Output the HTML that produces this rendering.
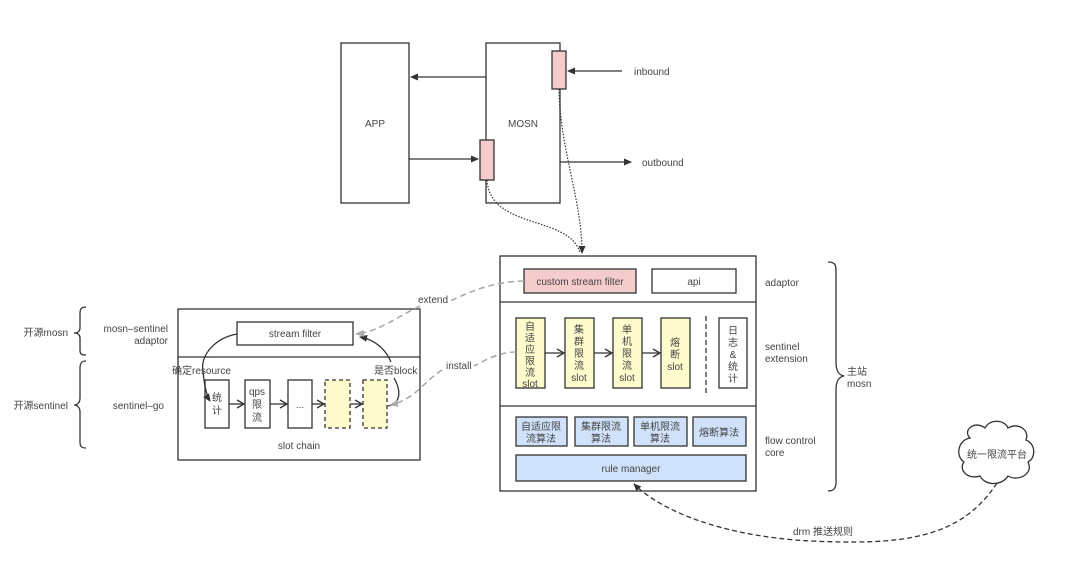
<!DOCTYPE html>
<html><head><meta charset="utf-8"><style>
html,body{margin:0;padding:0;background:#fff}
svg{display:block}
text{font-family:"Liberation Sans","Noto Sans CJK SC",sans-serif;font-size:10px;fill:#444}
</style></head><body>
<svg width="1080" height="577" viewBox="0 0 1080 577" xmlns="http://www.w3.org/2000/svg">
<defs>
<marker id="a" markerWidth="8" markerHeight="8" refX="7" refY="4" orient="auto" markerUnits="userSpaceOnUse"><path d="M0,0.5 L8,4 L0,7.5 Z" fill="#333"/></marker>
<marker id="o" markerWidth="10" markerHeight="10" refX="8" refY="5" orient="auto" markerUnits="userSpaceOnUse"><path d="M1,1 L8,5 L1,9" fill="none" stroke="#333" stroke-width="1.3"/></marker>
<marker id="g" markerWidth="9" markerHeight="9" refX="8" refY="4.5" orient="auto" markerUnits="userSpaceOnUse"><path d="M0,1 L9,4.5 L0,8 Z" fill="#aaa"/></marker>
</defs>
<g stroke="#333" stroke-width="1.3" fill="#fff">
<rect x="341" y="43" width="68" height="160"/>
<rect x="486" y="43" width="74" height="160"/>
<line x1="486" y1="77" x2="411" y2="77" marker-end="url(#a)"/>
<line x1="409" y1="159" x2="478" y2="159" marker-end="url(#a)"/>
<line x1="622" y1="71" x2="568" y2="71" marker-end="url(#a)"/>
<line x1="560" y1="162" x2="631" y2="162" marker-end="url(#a)"/>
<rect x="552" y="51" width="14" height="38" fill="#f4cccc"/>
<rect x="480" y="140" width="14" height="40" fill="#f4cccc"/>
<path d="M559,89 C560,150 582,200 582,253" fill="none" stroke-dasharray="1.5,1.5" stroke-width="1.2" marker-end="url(#a)"/>
<path d="M487,180 C490,230 570,215 580,253" fill="none" stroke-dasharray="1.5,1.5" stroke-width="1.2"/>
<rect x="500" y="256" width="256" height="235"/>
<line x1="500" y1="302" x2="756" y2="302"/>
<line x1="500" y1="406" x2="756" y2="406"/>
<rect x="524" y="269" width="112" height="24" fill="#f4cccc"/>
<rect x="652" y="269" width="84" height="24"/>
<rect x="516" y="318" width="29" height="70" fill="#fefbcc"/>
<rect x="565" y="318" width="29" height="70" fill="#fefbcc"/>
<rect x="613" y="318" width="29" height="70" fill="#fefbcc"/>
<rect x="661" y="318" width="29" height="70" fill="#fefbcc"/>
<line x1="545" y1="353" x2="564" y2="353" marker-end="url(#o)"/>
<line x1="594" y1="353" x2="612" y2="353" marker-end="url(#o)"/>
<line x1="642" y1="353" x2="660" y2="353" marker-end="url(#o)"/>
<line x1="706" y1="316" x2="706" y2="395" stroke-dasharray="5,3"/>
<rect x="719" y="318" width="28" height="70"/>
<rect x="516" y="417" width="51" height="29" fill="#cfe2fa"/>
<rect x="575" y="417" width="53" height="29" fill="#cfe2fa"/>
<rect x="634" y="417" width="53" height="29" fill="#cfe2fa"/>
<rect x="693" y="417" width="53" height="29" fill="#cfe2fa"/>
<rect x="516" y="455" width="230" height="26" fill="#cfe2fa"/>
<path d="M828,262 C836,262 836,266 836,272 L836,362 C836,370 838,375 844,376 C838,377 836,382 836,390 L836,482 C836,488 834,491 828,491" fill="none"/>
<rect x="178" y="309" width="242" height="151"/>
<line x1="178" y1="357" x2="420" y2="357"/>
<rect x="237" y="322" width="116" height="23"/>
<rect x="205" y="380" width="24" height="48"/>
<rect x="245" y="380" width="25" height="48"/>
<rect x="288" y="380" width="24" height="48"/>
<rect x="325" y="380" width="25" height="48" fill="#fefbcc" stroke-dasharray="4,3"/>
<rect x="363" y="380" width="24" height="48" fill="#fefbcc" stroke-dasharray="4,3"/>
<line x1="229" y1="404" x2="244" y2="404" marker-end="url(#o)"/>
<line x1="270" y1="404" x2="287" y2="404" marker-end="url(#o)"/>
<line x1="312" y1="404" x2="324" y2="404" marker-end="url(#o)"/>
<line x1="350" y1="404" x2="362" y2="404" marker-end="url(#o)"/>
<path d="M237,334 C215,338 200,355 203,372 C205,390 208,398 210,401" fill="none" marker-end="url(#a)"/>
<path d="M391,362 C386,350 376,340 360,337" fill="none" marker-end="url(#a)"/>
<path d="M394,378 C402,392 400,404 388,406" fill="none"/>
<path d="M86,307 C81,307 80,309 80,314 L80,328 C80,331 78,333 74,333 C78,333 80,335 80,338 L80,350 C80,354 81,355 86,355" fill="none"/>
<path d="M86,361 C81,361 80,364 80,368 L80,398 C80,402 78,405 74,405 C78,405 80,408 80,412 L80,442 C80,446 81,448 86,448" fill="none"/>
</g>
<g fill="none" stroke="#aaa" stroke-width="1.6" stroke-dasharray="6,4">
<path d="M524,281 C490,282 470,292 448,302 M420,306 C395,318 378,332 356,334" marker-end="url(#g)"/>
<path d="M516,352 C500,352 485,360 474,366 M442,370 C425,380 415,400 390,405" marker-end="url(#g)"/>
</g>
<path d="M997,483 C960,540 900,545 810,541 C720,536 660,510 634,484" fill="none" stroke="#333" stroke-width="1.3" stroke-dasharray="5,3" marker-end="url(#a)"/>
<path d="M970,438 C962,430 975,420 985,428 C990,418 1005,420 1008,428 C1018,422 1030,430 1026,440 C1036,444 1036,458 1028,462 C1034,474 1018,482 1008,476 C1002,486 985,486 980,476 C968,480 958,470 964,462 C955,456 958,440 970,438 Z" fill="#fff" stroke="#333" stroke-width="1.3"/>
<g text-anchor="middle">
<text x="375" y="127">APP</text>
<text x="523" y="127">MOSN</text>
<text x="580" y="285">custom stream filter</text>
<text x="694" y="285">api</text>
<text x="530" y="330">自</text><text x="530" y="341.5">适</text><text x="530" y="353">应</text><text x="530" y="364.5">限</text><text x="530" y="376">流</text><text x="530" y="387">slot</text>
<text x="579" y="333">集</text><text x="579" y="345">群</text><text x="579" y="357">限</text><text x="579" y="369">流</text><text x="579" y="381">slot</text>
<text x="627" y="333">单</text><text x="627" y="345">机</text><text x="627" y="357">限</text><text x="627" y="369">流</text><text x="627" y="381">slot</text>
<text x="675" y="346">熔</text><text x="675" y="358">断</text><text x="675" y="370">slot</text>
<text x="733" y="334">日</text><text x="733" y="346">志</text><text x="733" y="358">&amp;</text><text x="733" y="370">统</text><text x="733" y="382">计</text>
<text x="541" y="430">自适应限</text><text x="541" y="442">流算法</text>
<text x="601" y="430">集群限流</text><text x="601" y="442">算法</text>
<text x="660" y="430">单机限流</text><text x="660" y="442">算法</text>
<text x="719" y="436">熔断算法</text>
<text x="631" y="472">rule manager</text>
<text x="997" y="458">统一限流平台</text>
<text x="295" y="337">stream filter</text>
<text x="217" y="401">统</text><text x="217" y="414">计</text>
<text x="257" y="395">qps</text><text x="257" y="408">限</text><text x="257" y="421">流</text>
<text x="300" y="408">...</text>
<text x="299" y="449">slot chain</text>
</g>
<text x="634" y="75">inbound</text>
<text x="642" y="166">outbound</text>
<text x="765" y="286">adaptor</text>
<text x="765" y="350">sentinel</text><text x="765" y="362">extension</text>
<text x="765" y="444">flow control</text><text x="765" y="456">core</text>
<text x="847" y="375">主站</text><text x="847" y="387">mosn</text>
<text x="793" y="535">drm 推送规则</text>
<text x="418" y="303">extend</text>
<text x="446" y="369">install</text>
<text x="172" y="374">确定resource</text>
<text x="374" y="374">是否block</text>
<text x="168" y="332" text-anchor="end">mosn–sentinel</text><text x="168" y="344" text-anchor="end">adaptor</text>
<text x="164" y="409" text-anchor="end">sentinel–go</text>
<text x="68" y="336" text-anchor="end">开源mosn</text>
<text x="68" y="409" text-anchor="end">开源sentinel</text>
</svg>
</body></html>
